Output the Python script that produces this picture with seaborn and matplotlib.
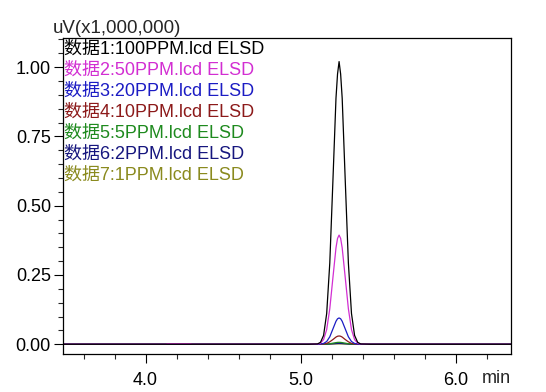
import numpy as np
import pandas as pd
import matplotlib
matplotlib.use("Agg")
import matplotlib.pyplot as plt
import seaborn as sns
from matplotlib.ticker import MultipleLocator, FormatStrFormatter

# retention time grid (min)
times = [3.46, 4.13, 4.14, 4.29, 4.30, 5.05,
         5.108, 5.128, 5.148, 5.168, 5.188, 5.208, 5.228, 5.238, 5.248,
         5.258, 5.268, 5.288, 5.308, 5.328, 5.348, 5.368, 5.388, 5.45, 6.36]

# detector response (uV x 1,000,000) for each sample
ppm100 = [0, 0, 0, 0, 0, 0,
          0.001, 0.007, 0.032, 0.111, 0.293, 0.587, 0.888, 0.975, 1.020,
          0.975, 0.888, 0.587, 0.293, 0.111, 0.032, 0.007, 0.001, 0, 0]
ppm50 = [0, 0, 0.0015, 0.0015, 0, 0,
         0.001, 0.004, 0.017, 0.053, 0.128, 0.239, 0.348, 0.382, 0.394,
         0.382, 0.348, 0.239, 0.128, 0.053, 0.017, 0.004, 0.001, 0, 0]
ppm20 = [0, 0, 0, 0, 0, 0,
         0, 0.001, 0.003, 0.010, 0.027, 0.055, 0.083, 0.092, 0.095,
         0.092, 0.083, 0.055, 0.027, 0.010, 0.003, 0.001, 0, 0, 0]
ppm10 = [0, 0, 0.0015, 0.0015, 0, 0,
         0, 0, 0.001, 0.003, 0.009, 0.017, 0.026, 0.029, 0.030,
         0.029, 0.026, 0.017, 0.009, 0.003, 0.001, 0, 0, 0, 0]
ppm5 = [0, 0, 0, 0, 0, 0,
        0, 0, 0, 0.001, 0.002, 0.004, 0.006, 0.0068, 0.007,
        0.0068, 0.006, 0.004, 0.002, 0.001, 0, 0, 0, 0, 0]
ppm2 = [0, 0, 0, 0, 0, 0,
        0, 0, 0, 0, 0.001, 0.0017, 0.0026, 0.0029, 0.003,
        0.0029, 0.0026, 0.0017, 0.001, 0, 0, 0, 0, 0, 0]
ppm1 = [0, 0, 0, 0, 0, 0,
        0, 0, 0, 0, 0.0005, 0.0009, 0.0013, 0.0014, 0.0015,
        0.0014, 0.0013, 0.0009, 0.0005, 0, 0, 0, 0, 0, 0]

labels = ["数据1:100PPM.lcd ELSD", "数据2:50PPM.lcd ELSD", "数据3:20PPM.lcd ELSD",
          "数据4:10PPM.lcd ELSD", "数据5:5PPM.lcd ELSD", "数据6:2PPM.lcd ELSD",
          "数据7:1PPM.lcd ELSD"]
colors = ["#000000", "#d22ed2", "#1c1cc4", "#8c1a1a", "#1e8a1e", "#16167e", "#8a8a1e"]
series = [ppm100, ppm50, ppm20, ppm10, ppm5, ppm2, ppm1]

frames = []
for lab, vals in zip(labels, series):
    frames.append(pd.DataFrame({"time": times, "signal": vals, "sample": lab}))
df = pd.concat(frames, ignore_index=True)

sns.set_style("white")
plt.rcParams['font.family'] = ['Liberation Sans', 'Noto Sans CJK SC', 'DejaVu Sans']

fig = plt.figure(figsize=(5.46, 3.92), dpi=100)
ax = fig.add_axes([0.1148, 0.0977, 0.8211, 0.8053])

# draw last sample first so the black trace sits on top
for lab, col in reversed(list(zip(labels, colors))):
    sns.lineplot(data=df[df["sample"] == lab], x="time", y="signal",
                 color=col, linewidth=0.9, ax=ax, legend=False)

ax.set_xlim(3.465, 6.357)
ax.set_ylim(-0.034, 1.105)
ax.xaxis.set_major_locator(MultipleLocator(1.0))
ax.xaxis.set_minor_locator(MultipleLocator(0.2))
ax.yaxis.set_major_locator(MultipleLocator(0.25))
ax.yaxis.set_minor_locator(MultipleLocator(0.05))
ax.xaxis.set_major_formatter(FormatStrFormatter('%.1f'))
ax.yaxis.set_major_formatter(FormatStrFormatter('%.2f'))
ax.tick_params(axis='both', which='major', direction='out', length=6.5, width=0.8,
               labelsize=13, colors='black', bottom=True, left=True)
ax.tick_params(axis='both', which='minor', direction='out', length=3.6, width=0.8,
               bottom=True, left=True)
ax.tick_params(axis='x', pad=6.5)
ax.tick_params(axis='y', pad=2)
ax.set_xlabel("")
ax.set_ylabel("")
for sp in ax.spines.values():
    sp.set_color('black')
    sp.set_linewidth(0.9)

# sample names as coloured text in the upper left corner
H = 353.7 - 38.0
for i, (lab, col) in enumerate(zip(labels, colors)):
    base = 53.3 + 21.1 * i
    ax.text(0.004, (353.7 - base) / H, lab, transform=ax.transAxes,
            color=col, fontsize=13, va='baseline', ha='left')

fig.text(53 / 546, 1 - 33 / 392, "uV(x1,000,000)", fontsize=13.5, va='baseline', ha='left')
fig.text(482 / 546, 1 - 383 / 392, "min", fontsize=13, va='baseline', ha='left')

fig.savefig("out.png", dpi=100)
